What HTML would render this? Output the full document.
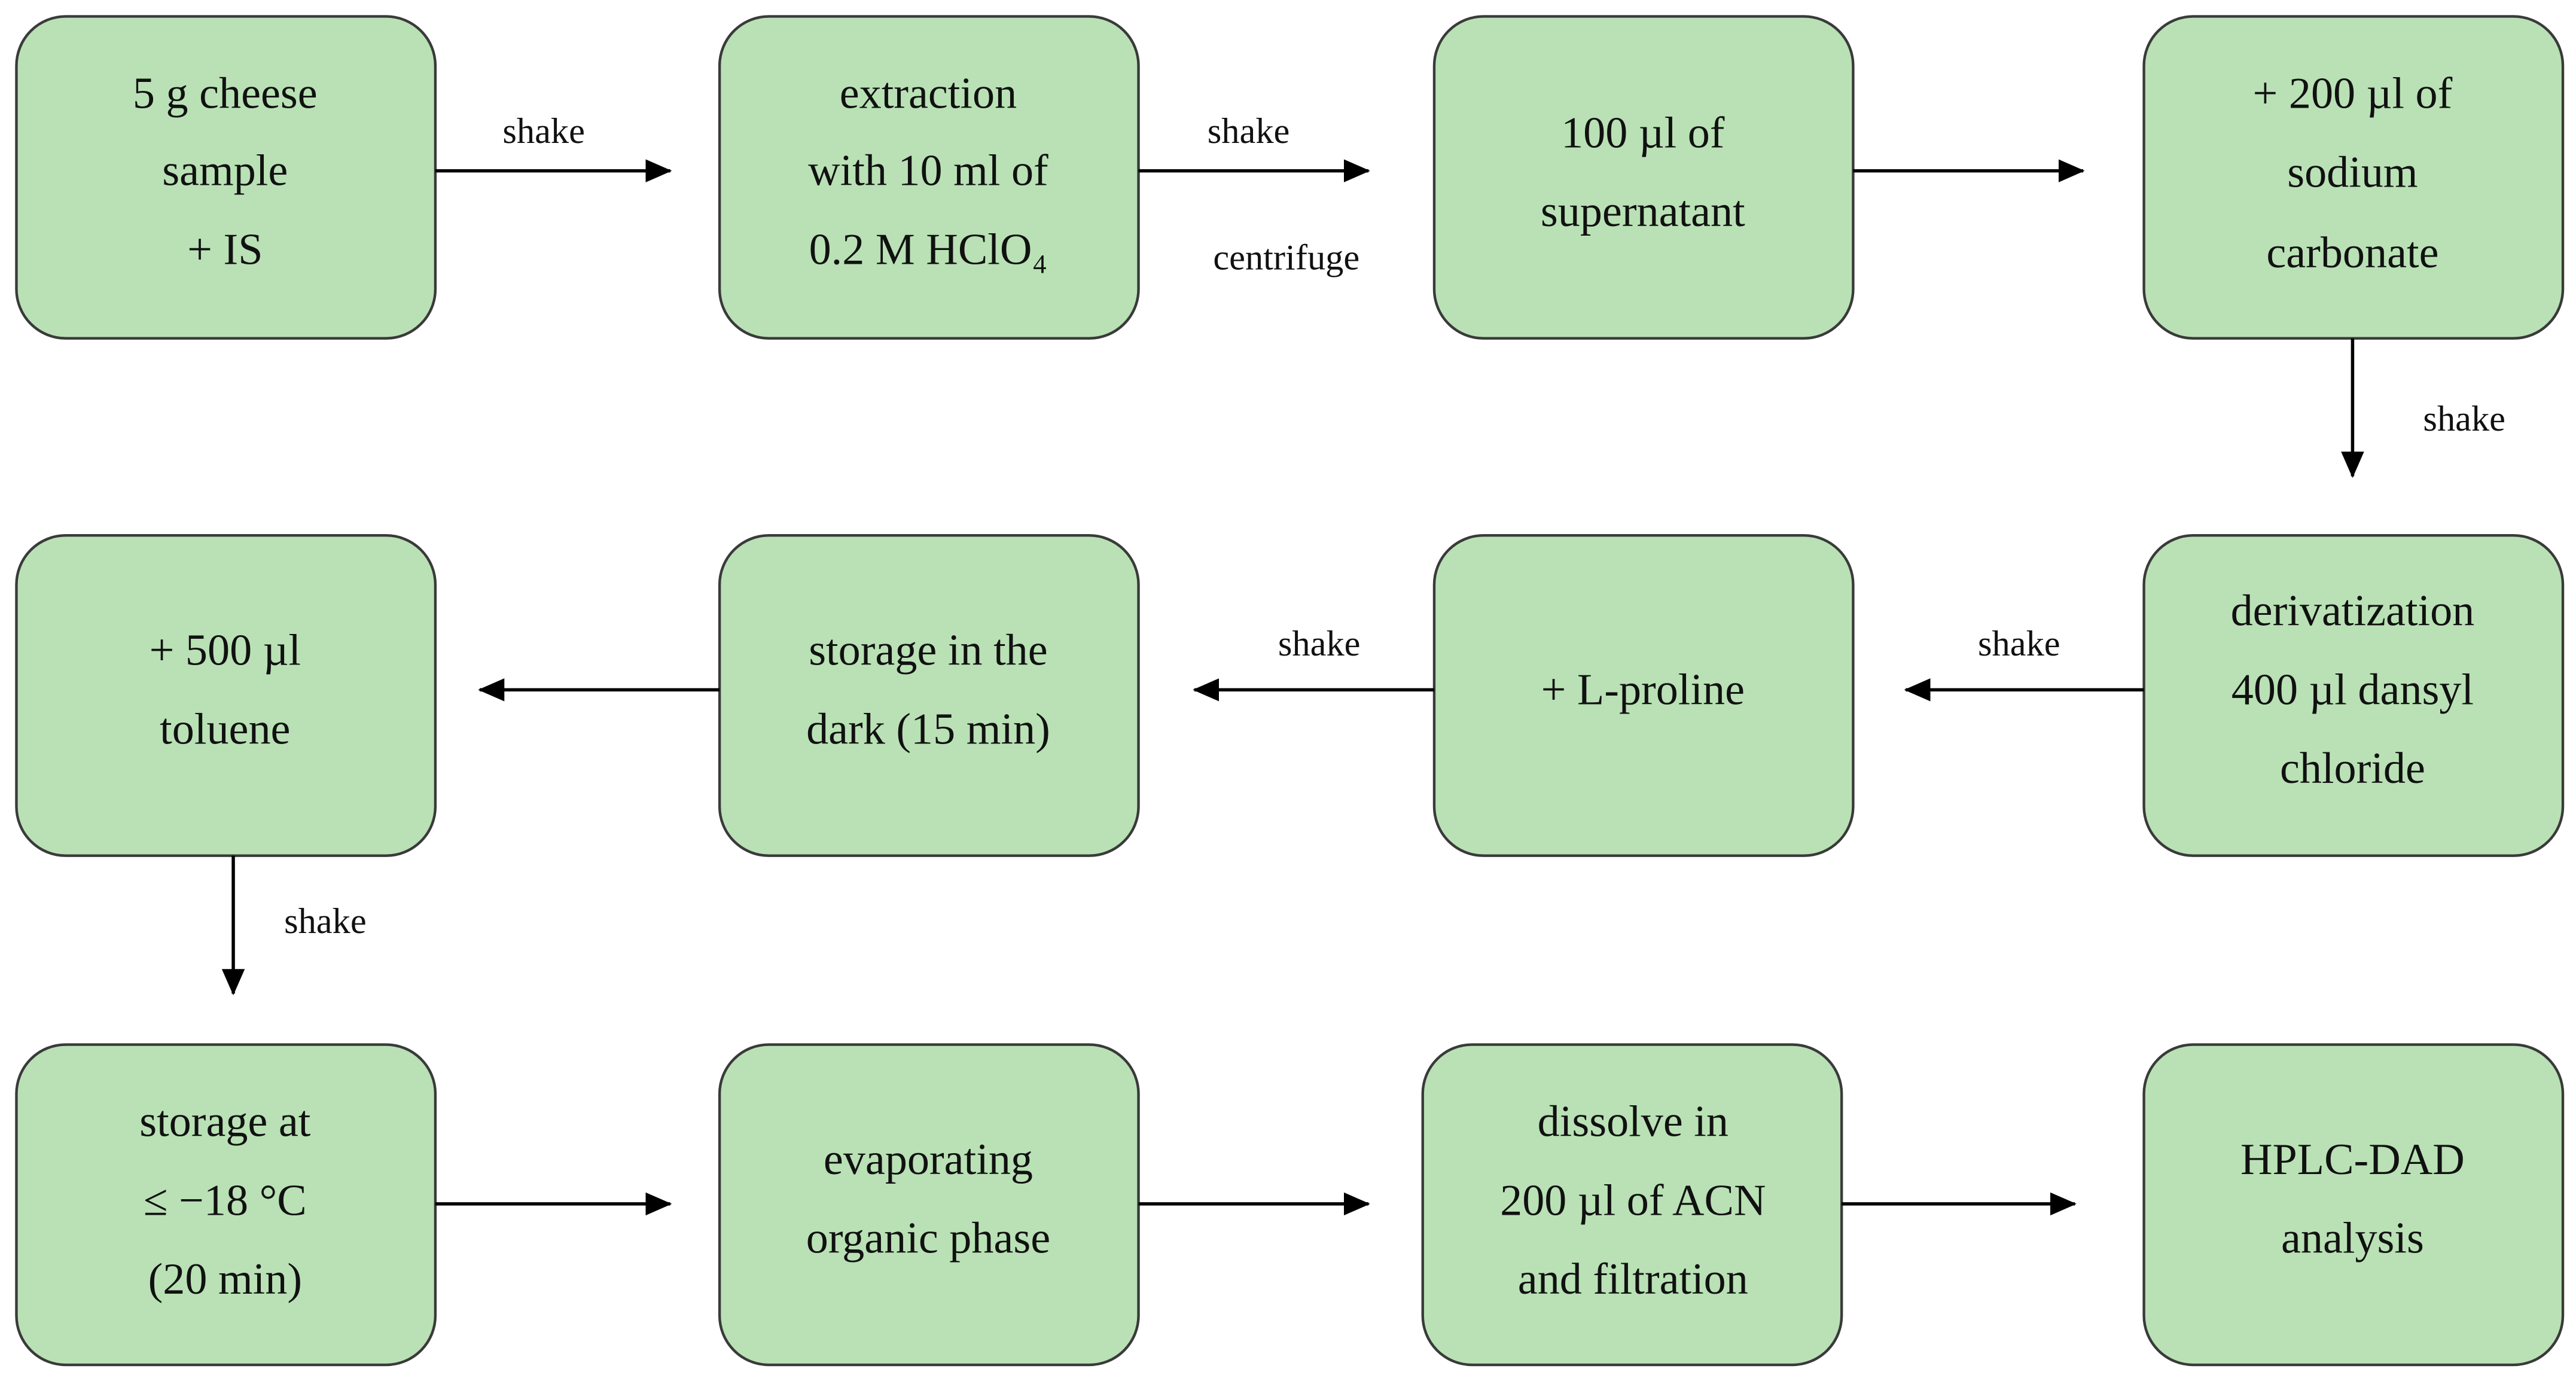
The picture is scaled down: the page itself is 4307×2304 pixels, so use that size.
<!DOCTYPE html>
<html><head><meta charset="utf-8"><style>
html,body{margin:0;padding:0;background:#fff;}
svg{display:block;}
text{font-family:"Liberation Serif",serif;fill:#111;}
.b{font-size:27px;text-anchor:middle;dominant-baseline:central;}
.l{font-size:22px;text-anchor:middle;dominant-baseline:central;}
rect{fill:#b9e1b5;stroke:#3a3a3a;stroke-width:1.6;}
line{stroke:#000;stroke-width:2;}
</style></head><body>
<svg width="4307" height="2304" viewBox="0 0 1568 839" preserveAspectRatio="none" xmlns="http://www.w3.org/2000/svg">
<defs><marker id="a" markerWidth="16" markerHeight="14" refX="15" refY="7" orient="auto" markerUnits="userSpaceOnUse"><path d="M0,0 L16,7 L0,14 z" fill="#000"/></marker></defs>
<!-- row 1 -->
<rect x="10" y="10" width="255" height="196" rx="30"/>
<rect x="438" y="10" width="255" height="196" rx="30"/>
<rect x="873" y="10" width="255" height="196" rx="30"/>
<rect x="1305" y="10" width="255" height="196" rx="30"/>
<text class="b" x="137" y="57">5 g cheese</text><text class="b" x="137" y="104">sample</text><text class="b" x="137" y="152">+ IS</text>
<text class="b" x="565" y="57">extraction</text><text class="b" x="565" y="104">with 10 ml of</text><text class="b" x="565" y="152">0.2 M HClO₄</text>
<text class="b" x="1000" y="81">100 µl of</text><text class="b" x="1000" y="129">supernatant</text>
<text class="b" x="1432" y="57">+ 200 µl of</text><text class="b" x="1432" y="105">sodium</text><text class="b" x="1432" y="154">carbonate</text>
<line x1="265" y1="104" x2="408" y2="104" marker-end="url(#a)"/>
<line x1="693" y1="104" x2="833" y2="104" marker-end="url(#a)"/>
<line x1="1128" y1="104" x2="1268" y2="104" marker-end="url(#a)"/>
<text class="l" x="331" y="80">shake</text><text class="l" x="760" y="80">shake</text><text class="l" x="783" y="157">centrifuge</text>
<line x1="1432" y1="206" x2="1432" y2="290" marker-end="url(#a)"/>
<text class="l" x="1500" y="255">shake</text>
<!-- row 2 -->
<rect x="10" y="326" width="255" height="195" rx="30"/>
<rect x="438" y="326" width="255" height="195" rx="30"/>
<rect x="873" y="326" width="255" height="195" rx="30"/>
<rect x="1305" y="326" width="255" height="195" rx="30"/>
<text class="b" x="137" y="396">+ 500 µl</text><text class="b" x="137" y="444">toluene</text>
<text class="b" x="565" y="396">storage in the</text><text class="b" x="565" y="444">dark (15 min)</text>
<text class="b" x="1000" y="420">+ L-proline</text>
<text class="b" x="1432" y="372">derivatization</text><text class="b" x="1432" y="420">400 µl dansyl</text><text class="b" x="1432" y="468">chloride</text>
<line x1="438" y1="420" x2="292" y2="420" marker-end="url(#a)"/>
<line x1="873" y1="420" x2="727" y2="420" marker-end="url(#a)"/>
<line x1="1305" y1="420" x2="1160" y2="420" marker-end="url(#a)"/>
<text class="l" x="803" y="392">shake</text><text class="l" x="1229" y="392">shake</text>
<line x1="142" y1="521" x2="142" y2="605" marker-end="url(#a)"/>
<text class="l" x="198" y="561">shake</text>
<!-- row 3 -->
<rect x="10" y="636" width="255" height="195" rx="30"/>
<rect x="438" y="636" width="255" height="195" rx="30"/>
<rect x="866" y="636" width="255" height="195" rx="30"/>
<rect x="1305" y="636" width="255" height="195" rx="30"/>
<text class="b" x="137" y="683">storage at</text><text class="b" x="137" y="731">≤ −18 °C</text><text class="b" x="137" y="779">(20 min)</text>
<text class="b" x="565" y="706">evaporating</text><text class="b" x="565" y="754">organic phase</text>
<text class="b" x="994" y="683">dissolve in</text><text class="b" x="994" y="731">200 µl of ACN</text><text class="b" x="994" y="779">and filtration</text>
<text class="b" x="1432" y="706">HPLC-DAD</text><text class="b" x="1432" y="754">analysis</text>
<line x1="265" y1="733" x2="408" y2="733" marker-end="url(#a)"/>
<line x1="693" y1="733" x2="833" y2="733" marker-end="url(#a)"/>
<line x1="1121" y1="733" x2="1263" y2="733" marker-end="url(#a)"/>
</svg>
</body></html>
